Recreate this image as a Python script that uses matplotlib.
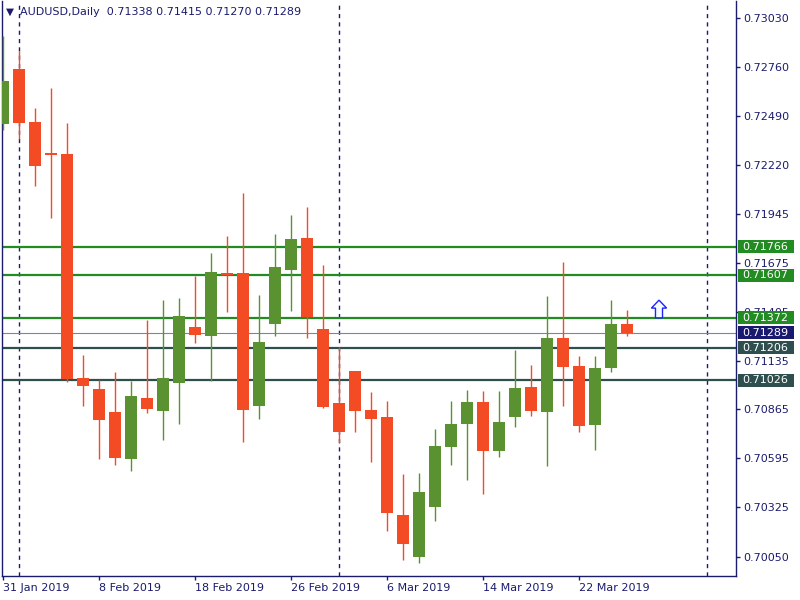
import matplotlib
matplotlib.use('Agg')
import matplotlib.pyplot as plt
import matplotlib.transforms as mtransforms
from matplotlib.patches import FancyArrow, Rectangle

# ---- data ----
opens = [0.72447, 0.72749, 0.72456, 0.72284, 0.72279, 0.71039, 0.70978, 0.70851, 0.70592, 0.70928,
         0.70856, 0.71013, 0.71321, 0.71273, 0.71620, 0.71618, 0.70886, 0.71340, 0.71639, 0.71814,
         0.71310, 0.70901, 0.71078, 0.70862, 0.70823, 0.70281, 0.70050, 0.70327, 0.70659, 0.70786,
         0.70906, 0.70637, 0.70825, 0.70989, 0.70853, 0.71260, 0.71106, 0.70781, 0.71096, 0.71338]
highs = [0.72930, 0.72849, 0.72534, 0.72644, 0.72451, 0.71166, 0.71028, 0.71072, 0.71022, 0.71360,
         0.71471, 0.71482, 0.71604, 0.71731, 0.71825, 0.72063, 0.71499, 0.71836, 0.71941, 0.71986,
         0.71665, 0.71211, 0.71080, 0.70962, 0.70912, 0.70508, 0.70513, 0.70757, 0.70912, 0.70973,
         0.70967, 0.70967, 0.71194, 0.71111, 0.71493, 0.71681, 0.71161, 0.71161, 0.71471, 0.71415]
lows = [0.72412, 0.72364, 0.72103, 0.71926, 0.71019, 0.70886, 0.70592, 0.70559, 0.70526, 0.70847,
        0.70698, 0.70786, 0.71235, 0.71024, 0.71406, 0.70687, 0.70814, 0.71273, 0.71412, 0.71262,
        0.70875, 0.70681, 0.70742, 0.70576, 0.70194, 0.70033, 0.70017, 0.70249, 0.70559, 0.70476,
        0.70399, 0.70604, 0.70770, 0.70830, 0.70554, 0.70886, 0.70742, 0.70642, 0.71074, 0.71270]
closes = [0.72683, 0.72452, 0.72214, 0.72275, 0.71035, 0.70996, 0.70808, 0.70598, 0.70940, 0.70869,
          0.71039, 0.71382, 0.71279, 0.71626, 0.71608, 0.70864, 0.71238, 0.71653, 0.71808, 0.71378,
          0.70880, 0.70742, 0.70858, 0.70814, 0.70294, 0.70122, 0.70408, 0.70663, 0.70785, 0.70906,
          0.70637, 0.70796, 0.70984, 0.70858, 0.71260, 0.71102, 0.70775, 0.71094, 0.71338, 0.71289]

date_tick_idx = [0, 6, 12, 18, 24, 30, 36]
date_tick_labels = ['31 Jan 2019', '8 Feb 2019', '18 Feb 2019', '26 Feb 2019',
                    '6 Mar 2019', '14 Mar 2019', '22 Mar 2019']
price_ticks = [0.73030, 0.72760, 0.72490, 0.72220, 0.71945, 0.71675, 0.71405,
               0.71135, 0.70865, 0.70595, 0.70325, 0.70050]
level_prices = [0.71766, 0.71607, 0.71372, 0.71206, 0.71026]
level_colors = ['#228B22', '#228B22', '#228B22', '#2F4F4F', '#2F4F4F']
bid_price = 0.71289
separators = [1, 21, 44]
arrow_idx = 41
arrow_base = 0.71372

symbol_title = 'AUDUSD,Daily  0.71338 0.71415 0.71270 0.71289'

# ---- style ----
NAVY = '#1B1B6E'
UP = '#5B9231'
DOWN = '#F34B24'

fig = plt.figure(figsize=(8, 6), dpi=100)
ax = fig.add_axes([2 / 800, 24 / 600, 734 / 800, 575 / 600])
ax.set_xlim(-0.0625, 45.8125)
ax.set_ylim(0.69943, 0.73126)

for i, (o, h, l, c) in enumerate(zip(opens, highs, lows, closes)):
    col = UP if c >= o else DOWN
    ax.vlines(i, l, h, color=col, lw=1.0, zorder=3)
    ax.bar(i, max(abs(c - o), 0.00003), bottom=min(o, c), width=0.69,
           color=col, edgecolor='none', zorder=4)

# separators
for s in separators:
    ax.axvline(s, color=NAVY, lw=1.0, ls=(0, (3, 3)), zorder=1)

# horizontal levels
for p, col in zip(level_prices, level_colors):
    ax.axhline(p, color=col, lw=1.6, zorder=2)
ax.axhline(bid_price, color='#778899', lw=0.8, zorder=2)

# arrow
ax.add_patch(FancyArrow(arrow_idx, arrow_base, 0, 0.00098, width=0.44, head_width=0.95,
                        head_length=0.00044, length_includes_head=True,
                        facecolor='#F4FCFF', edgecolor='#2020FF', lw=1.0, zorder=5))

# axes styling
for side in ['left', 'bottom', 'right', 'top']:
    ax.spines[side].set_color(NAVY)
    ax.spines[side].set_linewidth(1.0)
ax.spines['top'].set_visible(False)

ax.yaxis.tick_right()
ax.set_yticks(price_ticks)
ax.set_yticklabels([f'{p:.5f}' for p in price_ticks])
ax.tick_params(axis='y', direction='out', length=3, width=1, color=NAVY,
               labelcolor=NAVY, labelsize=8, pad=2)
ax.set_xticks(date_tick_idx)
ax.set_xticklabels(date_tick_labels, ha='left')
ax.tick_params(axis='x', direction='out', length=3, width=1, color=NAVY,
               labelcolor=NAVY, labelsize=8, pad=2)
for lbl in ax.get_xticklabels():
    lbl.set_horizontalalignment('left')

# right-side price boxes
trans = mtransforms.blended_transform_factory(ax.transAxes, ax.transData)
px_price = (0.73126 - 0.69943) / 575.0
box_prices = level_prices + [bid_price]
box_colors = level_colors + ['#191970']
for p, col in zip(box_prices, box_colors):
    ax.add_patch(Rectangle((1.0 + 2 / 734, p - 6.5 * px_price), 56 / 734, 13 * px_price,
                           transform=trans, facecolor=col, edgecolor='none',
                           clip_on=False, zorder=9))
    ax.text(1.0 + 6 / 734, p, f'{p:.5f}', transform=trans, ha='left', va='center',
            fontsize=8, color='white', zorder=10, clip_on=False)

# title
fig.text(6 / 800, 1 - 12 / 600, '\u25BC', fontsize=7.5, color=NAVY, ha='left', va='center')
fig.text(20 / 800, 1 - 12 / 600, symbol_title, fontsize=8, color=NAVY, ha='left', va='center')

fig.savefig('out.png', dpi=100, facecolor='white')
